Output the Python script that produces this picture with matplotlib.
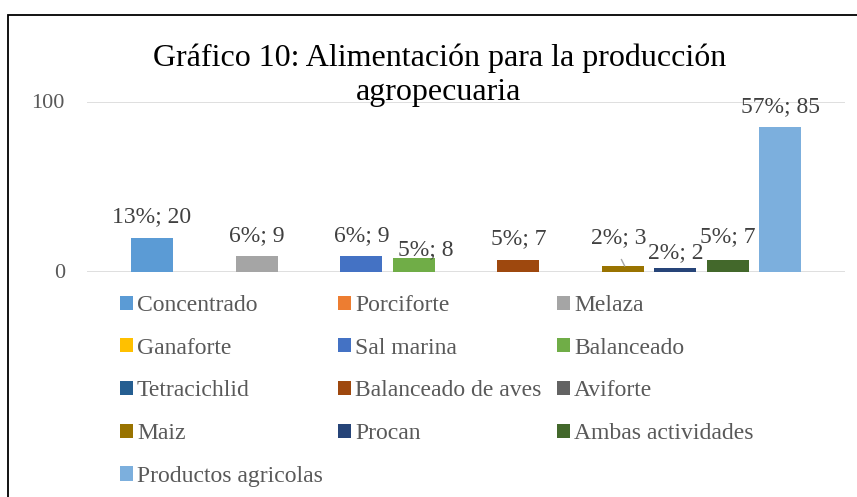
import matplotlib
matplotlib.use('Agg')
from matplotlib import pyplot as plt
from matplotlib.patches import Rectangle

# data
names = ['Concentrado', 'Porciforte', 'Melaza', 'Ganaforte', 'Sal marina',
         'Balanceado', 'Tetracichlid', 'Balanceado de aves', 'Aviforte',
         'Maiz', 'Procan', 'Ambas actividades', 'Productos agricolas']
counts = [20, 0, 9, 0, 9, 8, 0, 7, 0, 3, 2, 7, 85]
percents = [13, 0, 6, 0, 6, 5, 0, 5, 0, 2, 2, 5, 57]
colors = ['#5B9BD5', '#ED7D31', '#A5A5A5', '#FFC000', '#4472C4', '#70AD47',
          '#255E91', '#9E480E', '#636363', '#997300', '#264478', '#43682B',
          '#7CAFDD']

plt.rcParams['font.family'] = ['Liberation Serif', 'DejaVu Serif']

fig = plt.figure(figsize=(8.57, 4.97), dpi=100)
ax = fig.add_axes([87/857, 1-271.5/497, (845-87)/857, 170/497])

handles = []
for i, (n, v, c) in enumerate(zip(names, counts, colors)):
    b = ax.bar(i, v, width=0.8, color=c, label=n, zorder=3)
    handles.append(b)

# label offsets (points) for bars with hand-moved labels
offsets = {5: (9, 2), 9: (-3, 17), 10: (0, 7), 11: (0, 12.7)}
for i, (v, p) in enumerate(zip(counts, percents)):
    if v == 0:
        continue
    dx, dy = offsets.get(i, (0, 11))
    ax.annotate(f'{p}%; {v}', (i, v), xytext=(dx, dy), textcoords='offset points',
                ha='center', va='baseline', fontsize=17, color='#404040',
                annotation_clip=False)
# leader line for Maiz label
ax.plot([8.97, 9.03], [7.0, 3.3], color='#A6A6A6', lw=1, zorder=4, clip_on=False)

ax.set_xlim(-1.24, 13.24)
ax.set_ylim(0, 100)
ax.set_yticks([0, 100])
ax.set_xticks([])
ax.grid(axis='y', color='#D9D9D9', lw=1.2, zorder=0)
for s in ax.spines.values():
    s.set_visible(False)
ax.tick_params(axis='y', length=0, pad=16, labelsize=16, labelcolor='#595959')

fig.text(440/857, 1-66/497, 'Gráfico 10: Alimentación para la producción',
         ha='center', va='baseline', fontsize=23)
fig.text(439/857, 1-100/497, 'agropecuaria', ha='center', va='baseline', fontsize=23)

order = [0, 3, 6, 9, 12, 1, 4, 7, 10, 2, 5, 8, 11]
leg = fig.legend([handles[k] for k in order], [names[k] for k in order],
                 ncol=3, loc='upper left', bbox_to_anchor=(120/857, 1-295/497),
                 frameon=False, fontsize=17, borderpad=0, borderaxespad=0,
                 handlelength=0.55, handleheight=0.55, handletextpad=0.17,
                 columnspacing=0.65, labelspacing=0.92)
for t in leg.get_texts():
    t.set_color('#595959')

fig.patches.append(Rectangle((8/857, -0.2), 1.2, 1.2 - 15/497, transform=fig.transFigure,
                             fill=False, edgecolor='black', lw=1.3))

fig.savefig('out.png', dpi=100)
